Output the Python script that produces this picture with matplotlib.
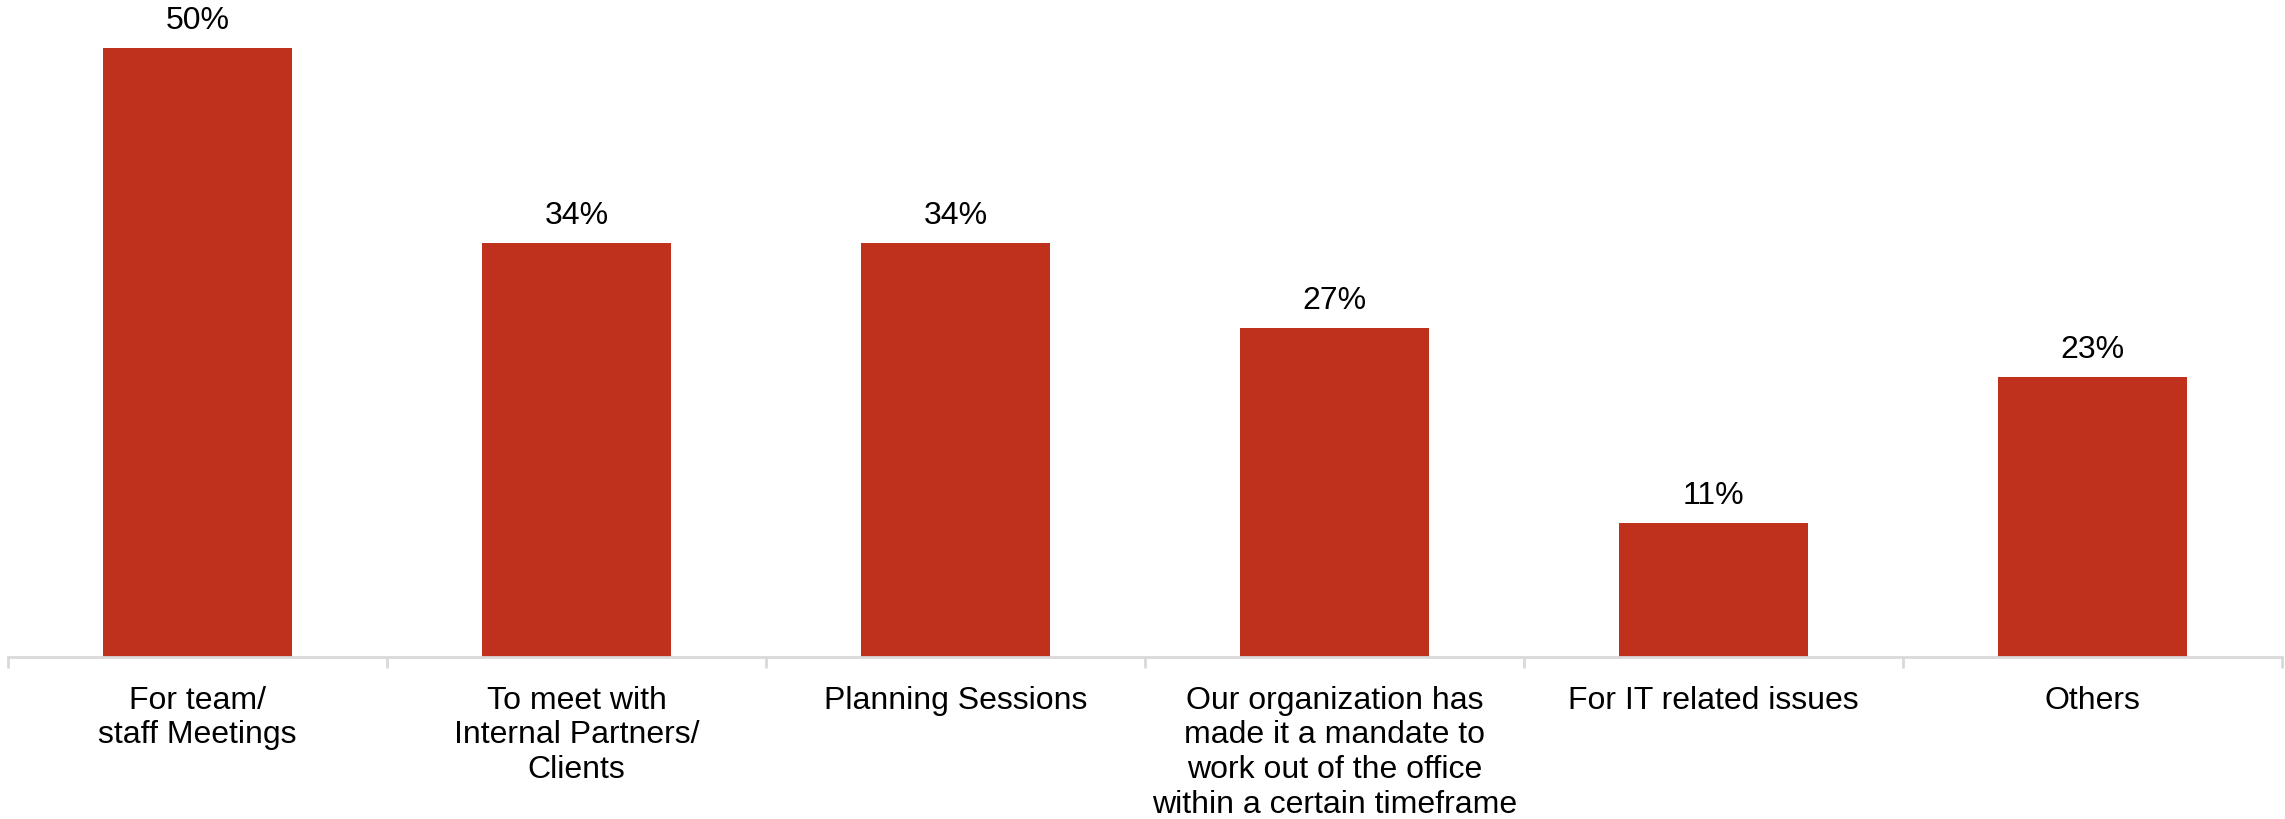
import numpy as np
import matplotlib.pyplot as plt
import matplotlib

matplotlib.rcParams['font.family'] = ['Liberation Sans', 'DejaVu Sans']

categories = ["For team/\nstaff Meetings",
              "To meet with\nInternal Partners/\nClients",
              "Planning Sessions",
              "Our organization has\nmade it a mandate to\nwork out of the office\nwithin a certain timeframe",
              "For IT related issues",
              "Others"]
values = [50, 34, 34, 27, 11, 23]

fig = plt.figure(figsize=(22.85, 8.2), dpi=100, facecolor="w")
ax = fig.add_axes([8 / 2285, 1 - 658 / 820, 2274 / 2285, 657 / 820])

x = np.arange(len(values))
bars = ax.bar(x, values, width=0.5, color="#bf311d")
for b, v in zip(bars, values):
    ax.annotate("%d%%" % v, (b.get_x() + b.get_width() / 2, v),
                xytext=(0, 14), textcoords="offset points",
                ha="center", va="baseline", fontsize=23, color="#000000")

ax.set_xlim(-0.5, len(values) - 0.5)
ax.set_ylim(0, 53.9)
for s in ["top", "left", "right"]:
    ax.spines[s].set_visible(False)
ax.spines["bottom"].set_color("#d9d9d9")
ax.spines["bottom"].set_linewidth(2)
ax.set_yticks([])

# category labels centred, tick marks on the category boundaries
ax.set_xticks(x)
ax.set_xticklabels(categories, fontsize=23, linespacing=1.2, va="top")
ax.tick_params(axis="x", which="major", length=0, pad=20)
ax.set_xticks(np.arange(-0.5, len(values)), minor=True)
ax.tick_params(axis="x", which="minor", length=8, width=2, color="#d9d9d9")

fig.savefig("out.png", dpi=100, facecolor="w")
